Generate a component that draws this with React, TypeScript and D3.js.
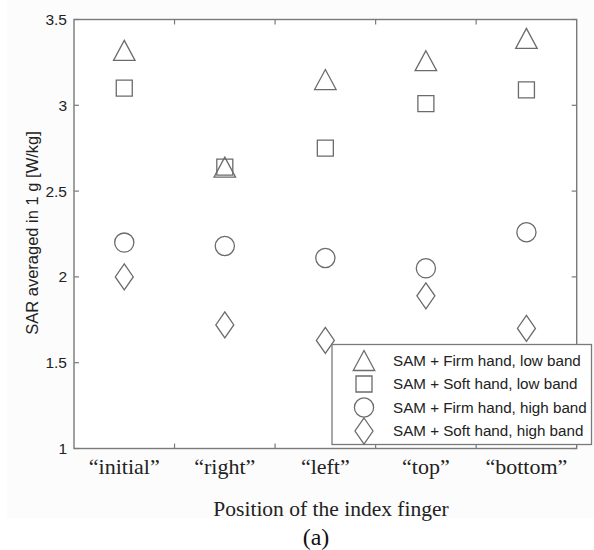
import React from "react";
import * as d3 from "d3";

const categories = ["\u201cinitial\u201d", "\u201cright\u201d", "\u201cleft\u201d", "\u201ctop\u201d", "\u201cbottom\u201d"];
const firmLow = [3.32, 2.64, 3.15, 3.26, 3.39];
const softLow = [3.10, 2.64, 2.75, 3.01, 3.09];
const firmHigh = [2.20, 2.18, 2.11, 2.05, 2.26];
const softHigh = [2.00, 1.72, 1.63, 1.89, 1.70];
const seriesNames = [
  "SAM + Firm hand, low band",
  "SAM + Soft hand, low band",
  "SAM + Firm hand, high band",
  "SAM + Soft hand, high band",
];
const yTicks = [1, 1.5, 2, 2.5, 3, 3.5];
const yTickLabels = ["1", "1.5", "2", "2.5", "3", "3.5"];

const W = 594, H = 550;
const L = 74, R = 576.7, T = 19.5, B = 448.5;
const GRAY = "#6b6b6b";
const AX = "#7a7a7a";

type Shape = "tri" | "sq" | "circ" | "dia";
const shapes: Shape[] = ["tri", "sq", "circ", "dia"];

function markerPath(s: Shape): string {
  if (s === "tri") {
    const w = 21.5, h = 20;
    return `M0,${-h / 2}L${w / 2},${h / 2}L${-w / 2},${h / 2}Z`;
  }
  if (s === "sq") {
    const a = 8;
    return `M${-a},${-a}L${a},${-a}L${a},${a}L${-a},${a}Z`;
  }
  if (s === "dia") {
    const w = 9, h = 13;
    return `M0,${-h}L${w},0L0,${h}L${-w},0Z`;
  }
  const p = d3.path();
  p.arc(0, 0, 9.6, 0, Math.PI * 2);
  p.closePath();
  return p.toString();
}

export default function App() {
  const x = d3.scaleBand<string>().domain(categories).range([L, R]).padding(0);
  const y = d3.scaleLinear().domain([1, 3.5]).range([B, T]);
  const bw = x.bandwidth();
  const series = [firmLow, softLow, firmHigh, softHigh];
  const xTickPos = categories.slice(1).map((c) => x(c)!);

  const legX = 332, legY = 344.5, legW = 259.5, legH = 100;
  const rowY = [360.5, 384, 407.5, 431];

  return (
    <svg width={W} height={H} style={{ position: "absolute", left: 0, top: 0, background: "#fff" }}>
      <rect x={7} y={0} width={W - 7} height={518} fill="#fcfcfc" />
      <rect x={L} y={T} width={R - L} height={B - T} fill="#fff" />
      {xTickPos.map((p, i) => (
        <g key={"xt" + i} stroke={AX} strokeWidth={1.2}>
          <line x1={p} x2={p} y1={B} y2={B - 5} />
          <line x1={p} x2={p} y1={T} y2={T + 5} />
        </g>
      ))}
      {yTicks.map((t, i) => (
        <g key={"yt" + i}>
          <line x1={L} x2={L + 5} y1={y(t)} y2={y(t)} stroke={AX} strokeWidth={1.2} />
          <line x1={R} x2={R - 5} y1={y(t)} y2={y(t)} stroke={AX} strokeWidth={1.2} />
          <text x={L - 7} y={y(t)} dy="0.36em" textAnchor="end" fontFamily="Liberation Sans, Arial, sans-serif" fontSize={15.5} fill="#222">
            {yTickLabels[i]}
          </text>
        </g>
      ))}
      <rect x={L} y={T} width={R - L} height={B - T} fill="none" stroke={AX} strokeWidth={1.4} />
      {series.map((vals, si) =>
        vals.map((v, ci) => (
          <path
            key={`m${si}-${ci}`}
            d={markerPath(shapes[si])}
            transform={`translate(${x(categories[ci])! + bw / 2},${y(v)})`}
            fill="none"
            stroke={GRAY}
            strokeWidth={1.3}
          />
        ))
      )}
      {categories.map((c, i) => (
        <text key={"xl" + i} x={x(c)! + bw / 2} y={474} textAnchor="middle" fontFamily="Liberation Serif, Times New Roman, serif" fontSize={22} fill="#222">
          {c}
        </text>
      ))}
      <text x={331} y={516} textAnchor="middle" fontFamily="Liberation Serif, Times New Roman, serif" fontSize={21.5} fill="#222">
        Position of the index finger
      </text>
      <text x={316} y={545} textAnchor="middle" fontFamily="Liberation Serif, Times New Roman, serif" fontSize={24} fill="#111">
        (a)
      </text>
      <text
        transform={`translate(38,${(T + B) / 2 - 1}) rotate(-90)`}
        textAnchor="middle"
        fontFamily="Liberation Sans, Arial, sans-serif"
        fontSize={16.5}
        fill="#222"
      >
        SAR averaged in 1 g [W/kg]
      </text>
      <rect x={legX} y={legY} width={legW} height={legH} fill="#fff" stroke={AX} strokeWidth={1.3} />
      {seriesNames.map((n, i) => (
        <g key={"lg" + i}>
          <path d={markerPath(shapes[i])} transform={`translate(364,${rowY[i]})`} fill="none" stroke={GRAY} strokeWidth={1.3} />
          <text x={393} y={rowY[i]} dy="0.36em" fontFamily="Liberation Sans, Arial, sans-serif" fontSize={15.2} fill="#222">
            {n}
          </text>
        </g>
      ))}
    </svg>
  );
}
